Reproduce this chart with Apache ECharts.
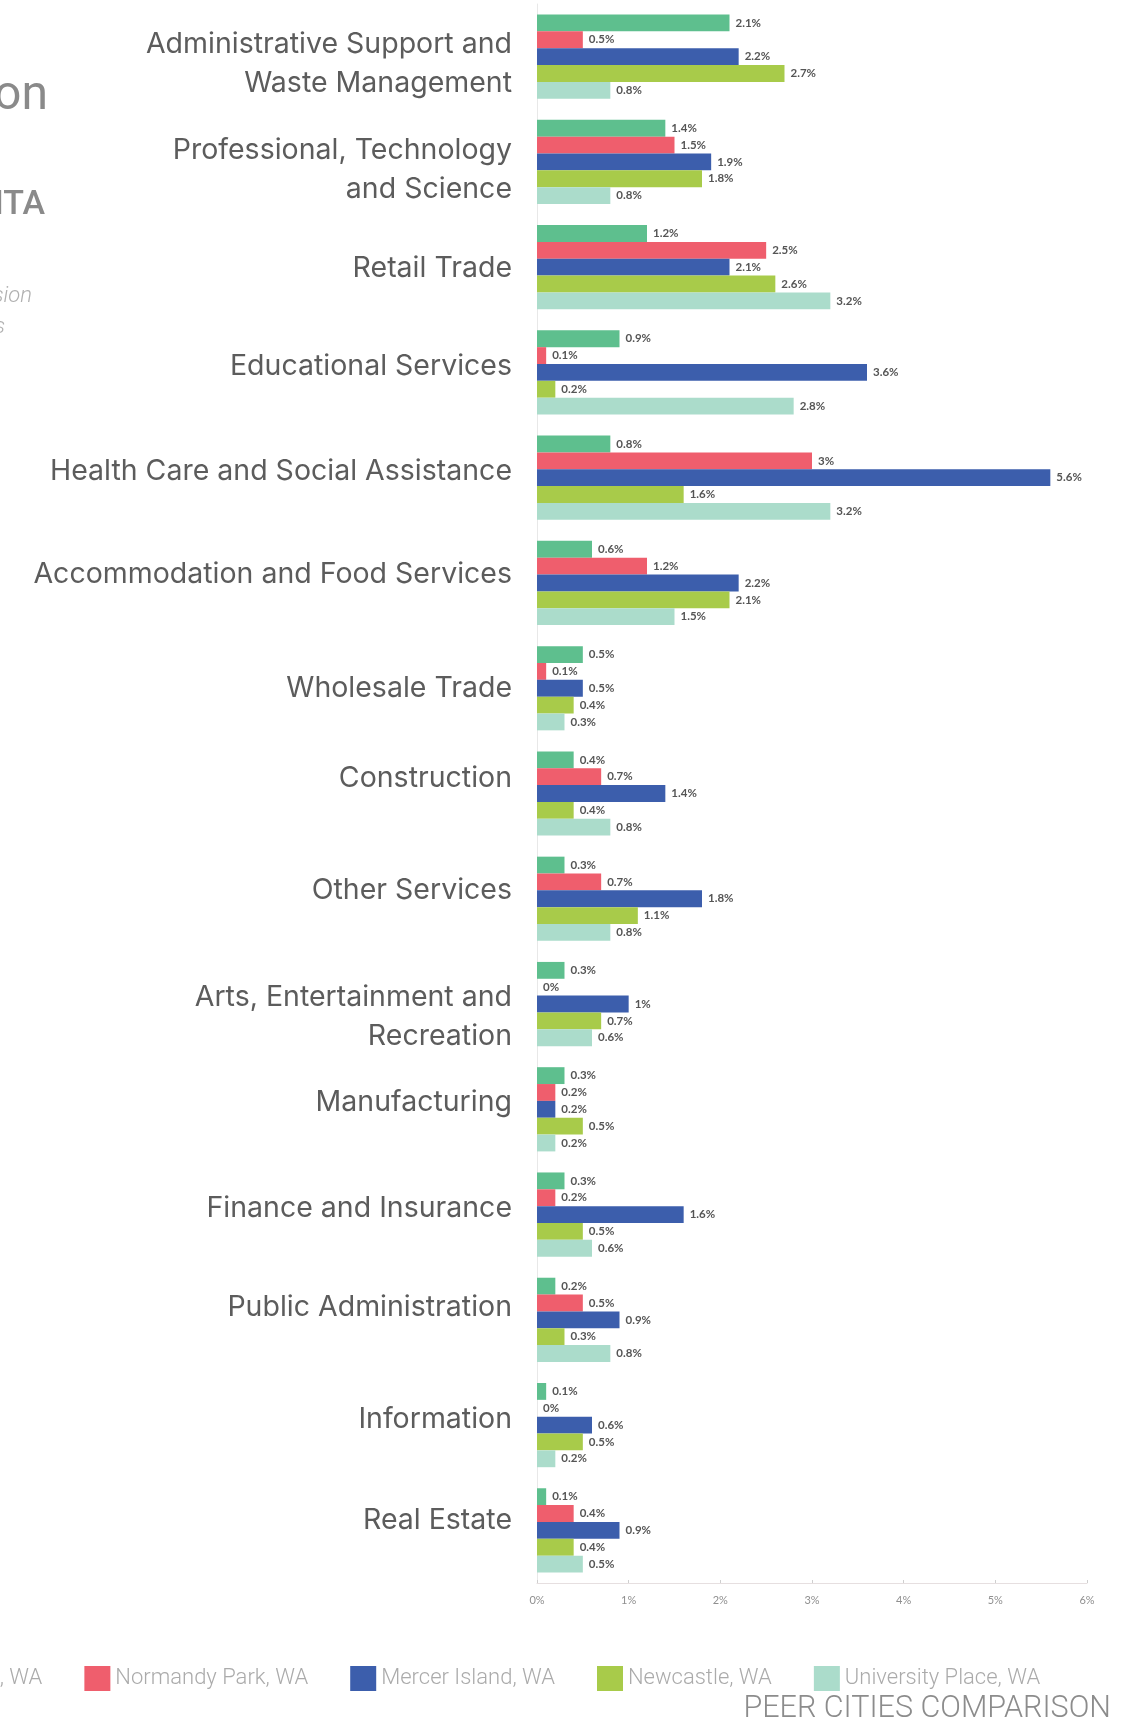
<!DOCTYPE html>
<html>
<head>
<meta charset="utf-8">
<script src="https://cdn.jsdelivr.net/npm/echarts@6/dist/echarts.min.js"></script>
<style>
  html, body { margin: 0; padding: 0; background: #ffffff; }
  #chart { width: 1147px; height: 1720px; }
</style>
</head>
<body>
<div id="chart"></div>
<script>
// Industry categories, top to bottom
const industries = [
  'Administrative Support and\nWaste Management',
  'Professional, Technology\nand Science',
  'Retail Trade',
  'Educational Services',
  'Health Care and Social Assistance',
  'Accommodation and Food Services',
  'Wholesale Trade',
  'Construction',
  'Other Services',
  'Arts, Entertainment and\nRecreation',
  'Manufacturing',
  'Finance and Insurance',
  'Public Administration',
  'Information',
  'Real Estate'
];

// Peer cities (legend order)
const cities = [
  'Lake Forest Park, WA',
  'Normandy Park, WA',
  'Mercer Island, WA',
  'Newcastle, WA',
  'University Place, WA'
];

// Share of employment per capita, in percent, one array per city
const lakeForestPark = [2.1, 1.4, 1.2, 0.9, 0.8, 0.6, 0.5, 0.4, 0.3, 0.3, 0.3, 0.3, 0.2, 0.1, 0.1];
const normandyPark   = [0.5, 1.5, 2.5, 0.1, 3.0, 1.2, 0.1, 0.7, 0.7, 0.0, 0.2, 0.2, 0.5, 0.0, 0.4];
const mercerIsland   = [2.2, 1.9, 2.1, 3.6, 5.6, 2.2, 0.5, 1.4, 1.8, 1.0, 0.2, 1.6, 0.9, 0.6, 0.9];
const newcastle      = [2.7, 1.8, 2.6, 0.2, 1.6, 2.1, 0.4, 0.4, 1.1, 0.7, 0.5, 0.5, 0.3, 0.5, 0.4];
const universityPlace= [0.8, 0.8, 3.2, 2.8, 3.2, 1.5, 0.3, 0.8, 0.8, 0.6, 0.2, 0.6, 0.8, 0.2, 0.5];

// Value axis ticks
const xTicks = [0, 1, 2, 3, 4, 5, 6];

const seriesValues = [lakeForestPark, normandyPark, mercerIsland, newcastle, universityPlace];
const colors = ['#5ebf8e', '#ef5e6d', '#3c5eac', '#a8cb4a', '#abdccb'];

// Vertical nudge (px, + = down) for the category labels
const labelNudge = [7, 8, 1, -6, -6, -9, 0, -15, -8, 13, -7, -6, -12, -6, -10];

// Rich-text styles: 't' is the label text, 'sp0'.. are spacer lines
const labelFont = { fontFamily: 'Inter', fontSize: 28.5, lineHeight: 39, color: '#5c5c5c' };
const richStyles = { t: labelFont };
labelNudge.forEach((d, i) => {
  richStyles['sp' + i] = { fontSize: 1, lineHeight: Math.max(1, Math.abs(d) * 2) };
});

function categoryLabel(value, index) {
  const lines = String(value).split('\n').map(s => '{t|' + s + '}');
  const d = labelNudge[index] || 0;
  if (d > 0) lines.unshift('{sp' + index + '| }');
  if (d < 0) lines.push('{sp' + index + '| }');
  return lines.join('\n');
}

const chart = echarts.init(document.getElementById('chart'), null, { renderer: 'canvas' });

const series = cities.map((name, i) => ({
  name: name,
  type: 'bar',
  data: seriesValues[i],
  barGap: '0%',
  barCategoryGap: '20%',
  itemStyle: { color: colors[i] },
  label: {
    show: true,
    position: 'right',
    distance: 6,
    formatter: '{c}%',
    fontFamily: 'Lato',
    fontWeight: 'bold',
    fontSize: 11.5,
    color: '#555555'
  },
  emphasis: { disabled: true }
}));

chart.setOption({
  animation: false,
  backgroundColor: '#ffffff',
  color: colors,
  grid: { left: 537, right: 60, top: 4, bottom: 137, containLabel: false },
  xAxis: {
    type: 'value',
    min: xTicks[0],
    max: xTicks[xTicks.length - 1],
    interval: 1,
    splitLine: { show: false },
    axisLine: { show: true, lineStyle: { color: '#e6dfe0', width: 1 } },
    axisTick: { show: true, length: 3, inside: true, lineStyle: { color: '#cfcfcf' } },
    axisLabel: {
      formatter: '{value}%',
      fontFamily: 'Lato',
      fontSize: 11,
      color: '#8f8f8f',
      margin: 12
    }
  },
  yAxis: {
    type: 'category',
    inverse: true,
    data: industries,
    axisLine: { show: true, lineStyle: { color: '#e8e8e8', width: 1 } },
    axisTick: { show: false },
    axisLabel: {
      margin: 25,
      align: 'right',
      fontFamily: labelFont.fontFamily,
      fontSize: labelFont.fontSize,
      color: labelFont.color,
      formatter: categoryLabel,
      rich: richStyles
    }
  },
  legend: {
    data: cities,
    orient: 'horizontal',
    left: -197,
    width: 1600,
    top: 1661,
    itemWidth: 26,
    itemHeight: 25,
    itemGap: 42,
    icon: 'rect',
    textStyle: { fontFamily: 'Roboto', fontWeight: 300, fontSize: 22, color: '#ababab' }
  },
  graphic: [
    { type: 'text', x: 48, y: 97, style: { text: 'on', font: '48px Roboto', fill: '#8a8a8a', textAlign: 'right', textVerticalAlign: 'middle' } },
    { type: 'text', x: 45, y: 205, style: { text: 'ITA', font: '500 34px Roboto', fill: '#8a8a8a', textAlign: 'right', textVerticalAlign: 'middle' } },
    { type: 'text', x: 32, y: 296, style: { text: 'sion', font: 'italic 300 22px Roboto', fill: '#b0b0b0', textAlign: 'right', textVerticalAlign: 'middle' } },
    { type: 'text', x: 5, y: 327, style: { text: 's', font: 'italic 300 22px Roboto', fill: '#b0b0b0', textAlign: 'right', textVerticalAlign: 'middle' } },
    { type: 'text', x: 1111, y: 1709, style: { text: 'PEER CITIES COMPARISON', font: '300 30.5px Roboto', fill: '#8c8c8c', textAlign: 'right', textVerticalAlign: 'middle' } }
  ],
  series: series
});
</script>
</body>
</html>
